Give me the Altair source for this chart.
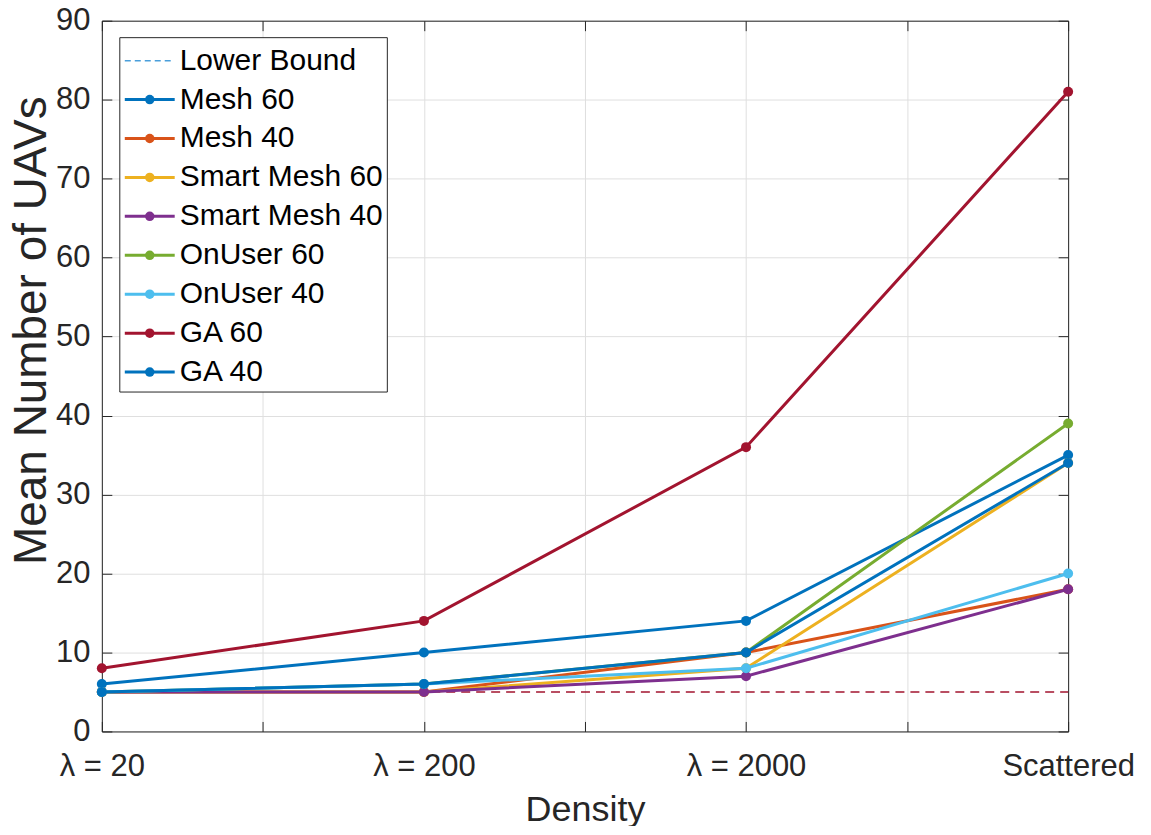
import json
import altair as alt
import pandas as pd

# ---- data ----
categories = ["λ = 20", "λ = 200", "λ = 2000", "Scattered"]
series_names = ["Mesh 60", "Mesh 40", "Smart Mesh 60", "Smart Mesh 40",
                "OnUser 60", "OnUser 40", "GA 60", "GA 40"]
lower_bound = [5, 5, 5, 5]
mesh_60 = [6, 10, 14, 35]
mesh_40 = [5, 5, 10, 18]
smart_mesh_60 = [5, 5, 8, 34]
smart_mesh_40 = [5, 5, 7, 18]
onuser_60 = [5, 6, 10, 39]
onuser_40 = [5, 6, 8, 20]
ga_60 = [8, 14, 36, 81]
ga_40 = [5, 6, 10, 34]
y_ticks = [0, 10, 20, 30, 40, 50, 60, 70, 80, 90]

series_values = [mesh_60, mesh_40, smart_mesh_60, smart_mesh_40,
                 onuser_60, onuser_40, ga_60, ga_40]
colors = ["#0072BD", "#D95319", "#EDB120", "#7E2F8E",
          "#77AC30", "#4DBEEE", "#A2142F", "#0072BD"]

FONT = "Liberation Sans"
TXT = "#262626"

rows = []
for name, vals in zip(series_names, series_values):
    for i, v in enumerate(vals):
        rows.append({"series": name, "pos": i + 1, "value": v})
df = pd.DataFrame(rows)
lb_df = pd.DataFrame({"pos": [i + 1 for i in range(len(categories))], "value": lower_bound})

legend_names = ["Lower Bound"] + series_names
legend_df = pd.DataFrame({"series": legend_names, "idx": list(range(len(legend_names)))})

color_scale = alt.Scale(domain=series_names, range=colors)
x_scale = alt.Scale(domain=[1, len(categories)], nice=False, zero=False)
y_scale = alt.Scale(domain=[y_ticks[0], y_ticks[-1]], nice=False, zero=False)

labels_js = json.dumps(categories, ensure_ascii=False)
x_ticks = [1 + 0.5 * k for k in range(2 * len(categories) - 1)]

x_axis = alt.Axis(
    values=x_ticks,
    labelExpr=f"datum.value % 1 === 0 ? {labels_js}[datum.value - 1] : ''",
    labelFont=FONT, labelFontSize=31, labelColor=TXT,
    labelPadding=30, labelFlush=False, labelOverlap=False,
    tickSize={"expr": "-10"}, tickColor=TXT, tickWidth=1,
    domainColor=TXT, domainWidth=1,
    grid=True, gridColor="#dfdfdf", gridWidth=1,
    title="Density", titleFont=FONT, titleFontSize=36, titleFontWeight="normal",
    titleColor=TXT, titleBaseline="alphabetic", titleY=89,
)
y_axis = alt.Axis(
    values=y_ticks,
    labelFont=FONT, labelFontSize=31, labelColor=TXT,
    labelPadding=22, labelOverlap=False, labelFlush=False,
    tickSize={"expr": "-10"}, tickColor=TXT, tickWidth=1,
    domainColor=TXT, domainWidth=1,
    grid=True, gridColor="#dfdfdf", gridWidth=1,
    title="Mean Number of UAVs", titleFont=FONT, titleFontSize=46,
    titleFontWeight="normal", titleColor=TXT,
    titleX=-70, titleY=310, titleAngle=-90, titleBaseline="middle", titleAlign="center",
)
top_axis = alt.Axis(orient="top", values=x_ticks, labels=False, title=None,
                    tickSize={"expr": "-10"}, tickColor=TXT, domainColor=TXT, grid=False)
right_axis = alt.Axis(orient="right", values=y_ticks, labels=False, title=None,
                      tickSize={"expr": "-10"}, tickColor=TXT, domainColor=TXT, grid=False)

layers = []

# lower bound dashed line (also carries the top/right box axes)
layers.append(
    alt.Chart(lb_df).mark_line(strokeDash=[9, 6], strokeWidth=1.5, color="#A2142F").encode(
        x=alt.X("pos:Q", scale=x_scale, axis=top_axis),
        y=alt.Y("value:Q", scale=y_scale, axis=right_axis),
    )
)

first = True
for name in series_names:
    sub = alt.Chart(df).transform_filter(alt.datum.series == name)
    if first:
        xenc = alt.X("pos:Q", scale=x_scale, axis=x_axis)
        yenc = alt.Y("value:Q", scale=y_scale, axis=y_axis)
        first = False
    else:
        xenc = alt.X("pos:Q", scale=x_scale, axis=None)
        yenc = alt.Y("value:Q", scale=y_scale, axis=None)
    layers.append(sub.mark_line(strokeWidth=3).encode(
        x=xenc, y=yenc,
        color=alt.Color("series:N", scale=color_scale, legend=None),
        order=alt.Order("pos:Q"),
    ))
    layers.append(sub.mark_circle(size=100, opacity=1).encode(
        x=alt.X("pos:Q", scale=x_scale, axis=None),
        y=alt.Y("value:Q", scale=y_scale, axis=None),
        color=alt.Color("series:N", scale=color_scale, legend=None),
    ))

# ---- manual legend ----
leg = alt.Chart(legend_df).transform_calculate(ly="40 + 39 * datum.idx")
ly = alt.Y("ly:Q", scale=None, axis=None)

layers.append(
    alt.Chart(pd.DataFrame({"k": [0]})).mark_rect(fill="white", stroke=TXT, strokeWidth=1).encode(
        x=alt.value(18), x2=alt.value(286), y=alt.value(17), y2=alt.value(372)
    )
)
layers.append(
    leg.transform_filter("datum.idx == 0").mark_rule(strokeWidth=1.5, strokeDash=[6, 4], color="#4A9FDB").encode(
        x=alt.value(23), x2=alt.value(73), y=ly
    )
)
layers.append(
    leg.transform_filter("datum.idx > 0").mark_rule(strokeWidth=3).encode(
        x=alt.value(23), x2=alt.value(73), y=ly,
        color=alt.Color("series:N", scale=color_scale, legend=None),
    )
)
layers.append(
    leg.transform_filter("datum.idx > 0").mark_circle(size=90, opacity=1).encode(
        x=alt.value(48), y=ly,
        color=alt.Color("series:N", scale=color_scale, legend=None),
    )
)
layers.append(
    leg.mark_text(align="left", baseline="middle", font=FONT, fontSize=30, color="black").encode(
        x=alt.value(78), y=ly, text="series:N"
    )
)

chart = alt.layer(*layers).resolve_axis(x="independent", y="independent").properties(
    width=968, height=712,
    padding={"left": 94, "top": 12, "right": 75, "bottom": 94},
    autosize=alt.AutoSizeParams(type="none"),
    background="white",
).configure_view(stroke=None)

chart.save("out.html", embed_options={"renderer": "svg", "actions": False})
